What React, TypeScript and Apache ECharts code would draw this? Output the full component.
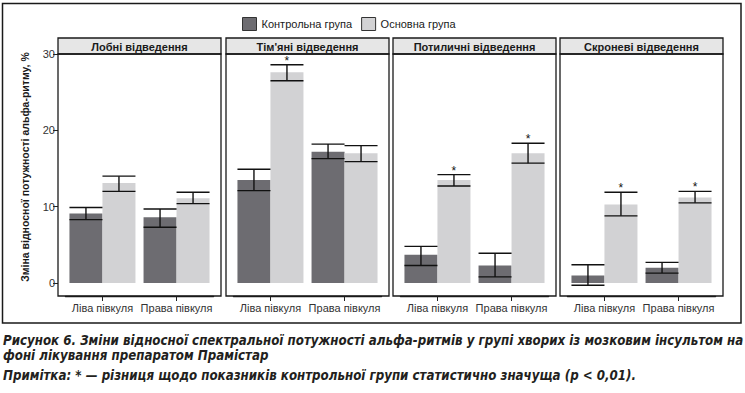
import React, { useEffect, useRef } from "react";
import * as echarts from "echarts";

const categories = ["Ліва півкуля", "Права півкуля"];
const panels = ["Лобні відведення", "Тім'яні відведення", "Потиличні відведення", "Скроневі відведення"];
const seriesNames = ["Контрольна група", "Основна група"];
const yTicks = [0, 10, 20, 30];

const controlMean = [[9.1, 8.6], [13.5, 17.2], [3.7, 2.3], [1.0, 2.0]];
const controlLow = [[8.3, 7.3], [12.1, 16.3], [2.3, 0.8], [-0.3, 1.3]];
const controlHigh = [[9.9, 9.7], [14.9, 18.2], [4.8, 3.9], [2.4, 2.7]];
const mainMean = [[13.1, 11.1], [27.6, 17.0], [13.5, 17.0], [10.3, 11.2]];
const mainLow = [[12.0, 10.4], [26.5, 15.9], [12.7, 15.7], [8.8, 10.5]];
const mainHigh = [[14.0, 11.9], [28.6, 18.0], [14.2, 18.3], [11.9, 12.0]];
const significant = [[false, false], [true, false], [true, true], [true, true]];

const FONT = '"Liberation Sans", Arial, sans-serif';
const CAPTION_FONT = '"Liberation Sans Narrow", "DejaVu Sans Condensed", "Liberation Sans", sans-serif';
const DARK = "#6d6c71";
const LIGHT = "#d2d2d4";
const BAR_W = 33;

const panelLeft = [58, 226, 393, 560];
const PANEL_W = 163;
const PANEL_TOP = 54;
const PANEL_BOTTOM = 296;
const STRIP_TOP = 38;

export default function App() {
  const ref = useRef<HTMLDivElement>(null);
  useEffect(() => {
    document.body.style.margin = "0";
    if (!ref.current) return;
    const chart = echarts.init(ref.current, undefined, { renderer: "svg" });

    const grids: any[] = [];
    const xAxes: any[] = [];
    const yAxes: any[] = [];
    const series: any[] = [];
    const graphics: any[] = [];

    panels.forEach((p, i) => {
      // category centres at 0.273 / 0.727 of the panel (ggplot expansion)
      const inner = PANEL_W * (2 / 2.2);
      const gLeft = panelLeft[i] + (PANEL_W - inner) / 2;
      grids.push({ left: gLeft, width: inner, top: PANEL_TOP, height: PANEL_BOTTOM - PANEL_TOP });
      xAxes.push({
        type: "category",
        gridIndex: i,
        data: categories,
        position: "bottom",
        axisLine: { show: true, onZero: false, lineStyle: { color: "#1a1a1a", width: 1.3 } },
        axisTick: { show: true, interval: 0, alignWithLabel: true, length: 5, lineStyle: { color: "#222", width: 1 } },
        axisLabel: { interval: 0, color: "#333", fontSize: 11, fontFamily: FONT, margin: 6 },
      });
      yAxes.push({
        type: "value",
        gridIndex: i,
        min: -1.7,
        max: 30,
        offset: gLeft - panelLeft[i],
        splitLine: { show: false },
        axisLine: { show: false },
        axisTick: i === 0 ? { show: true, length: 5, customValues: yTicks, lineStyle: { color: "#222" } } : { show: false },
        axisLabel: i === 0 ? { show: true, customValues: yTicks, color: "#333", fontSize: 11, fontFamily: FONT, margin: 3 } : { show: false },
      });
      series.push({
        type: "bar",
        name: seriesNames[0],
        xAxisIndex: i,
        yAxisIndex: i,
        barWidth: BAR_W,
        barGap: "0%",
        itemStyle: { color: DARK },
        data: controlMean[i],
      });
      series.push({
        type: "bar",
        name: seriesNames[1],
        xAxisIndex: i,
        yAxisIndex: i,
        barWidth: BAR_W,
        barGap: "0%",
        itemStyle: { color: LIGHT },
        data: mainMean[i],
      });
      const groups = [
        { low: controlLow[i], high: controlHigh[i], sig: [false, false], off: -BAR_W / 2 },
        { low: mainLow[i], high: mainHigh[i], sig: significant[i], off: BAR_W / 2 },
      ];
      groups.forEach((g, gi) => {
        series.push({
          type: "custom",
          name: "err" + i + gi,
          xAxisIndex: i,
          yAxisIndex: i,
          z: 5,
          encode: { x: 0, y: [1, 2] },
          data: categories.map((_, ci) => [ci, g.low[ci], g.high[ci], g.sig[ci] ? 1 : 0]),
          renderItem: (params: any, api: any) => {
            const c = api.value(0);
            const x = api.coord([c, 0])[0] + g.off;
            const yl = api.coord([c, api.value(1)])[1];
            const yh = api.coord([c, api.value(2)])[1];
            const half = BAR_W / 2;
            const ls = { stroke: "#111", lineWidth: 1.4 };
            const children: any[] = [
              { type: "line", shape: { x1: x, y1: yl, x2: x, y2: yh }, style: ls },
              { type: "line", shape: { x1: x - half, y1: yl, x2: x + half, y2: yl }, style: ls },
              { type: "line", shape: { x1: x - half, y1: yh, x2: x + half, y2: yh }, style: ls },
            ];
            if (api.value(3) === 1) {
              children.push({
                type: "text",
                style: { x, y: yh - 4, text: "*", fill: "#111", fontSize: 12, fontFamily: FONT, align: "center", verticalAlign: "middle" },
              });
            }
            return { type: "group", children };
          },
        });
      });
      // panel border + strip
      graphics.push({
        type: "rect",
        shape: { x: panelLeft[i], y: STRIP_TOP, width: PANEL_W, height: PANEL_TOP - STRIP_TOP },
        style: { fill: "#e6e6e6", stroke: "#1a1a1a", lineWidth: 1.3 },
        z: 10,
      });
      graphics.push({
        type: "text",
        x: panelLeft[i] + PANEL_W / 2,
        y: (STRIP_TOP + PANEL_TOP) / 2 + 0.5,
        style: { text: p, fill: "#1a1a1a", fontSize: 11, fontWeight: "bold", fontFamily: FONT, align: "center", verticalAlign: "middle" },
        z: 11,
      });
      graphics.push({
        type: "rect",
        shape: { x: panelLeft[i], y: PANEL_TOP, width: PANEL_W, height: PANEL_BOTTOM - PANEL_TOP },
        style: { fill: "none", stroke: "#1a1a1a", lineWidth: 1.3 },
        z: 10,
      });
    });

    graphics.push({
      type: "rect",
      shape: { x: 2.5, y: 3.5, width: 738.5, height: 319.5 },
      style: { fill: "none", stroke: "#1a1a1a", lineWidth: 1.5 },
      z: 10,
    });
    graphics.push({
      type: "text",
      x: 25,
      y: 167,
      rotation: Math.PI / 2,
      style: {
        text: "Зміна відносної потужності альфа-ритму, %",
        fill: "#1a1a1a",
        fontSize: 10.5,
        fontWeight: "bold",
        fontFamily: FONT,
        align: "center",
        verticalAlign: "middle",
      },
      z: 11,
    });
    const captionStyle = { fill: "#231f20", fontSize: 13.2, fontWeight: "bold", fontStyle: "italic", fontFamily: CAPTION_FONT, verticalAlign: "middle" };
    graphics.push({
      type: "text",
      x: 3,
      y: 340,
      style: { ...captionStyle, text: "Рисунок 6. Зміни відносної спектральної потужності альфа-ритмів у групі хворих із мозковим інсультом на" },
    });
    graphics.push({
      type: "text",
      x: 3,
      y: 355,
      style: { ...captionStyle, text: "фоні лікування препаратом Прамістар" },
    });
    graphics.push({
      type: "text",
      x: 3,
      y: 375,
      style: { ...captionStyle, text: "Примітка: * — різниця щодо показників контрольної групи статистично значуща (p < 0,01)." },
    });

    chart.setOption({
      animation: false,
      backgroundColor: "#ffffff",
      legend: {
        data: seriesNames,
        left: 237,
        top: 12,
        icon: "rect",
        itemWidth: 14,
        itemHeight: 13,
        itemGap: 9,
        itemStyle: { borderColor: "#333", borderWidth: 1 },
        textStyle: { fontSize: 11, color: "#1a1a1a", fontFamily: FONT },
      },
      grid: grids,
      xAxis: xAxes,
      yAxis: yAxes,
      series,
      graphic: graphics,
    });
    return () => chart.dispose();
  }, []);
  return <div ref={ref} style={{ width: 745, height: 393 }} />;
}
